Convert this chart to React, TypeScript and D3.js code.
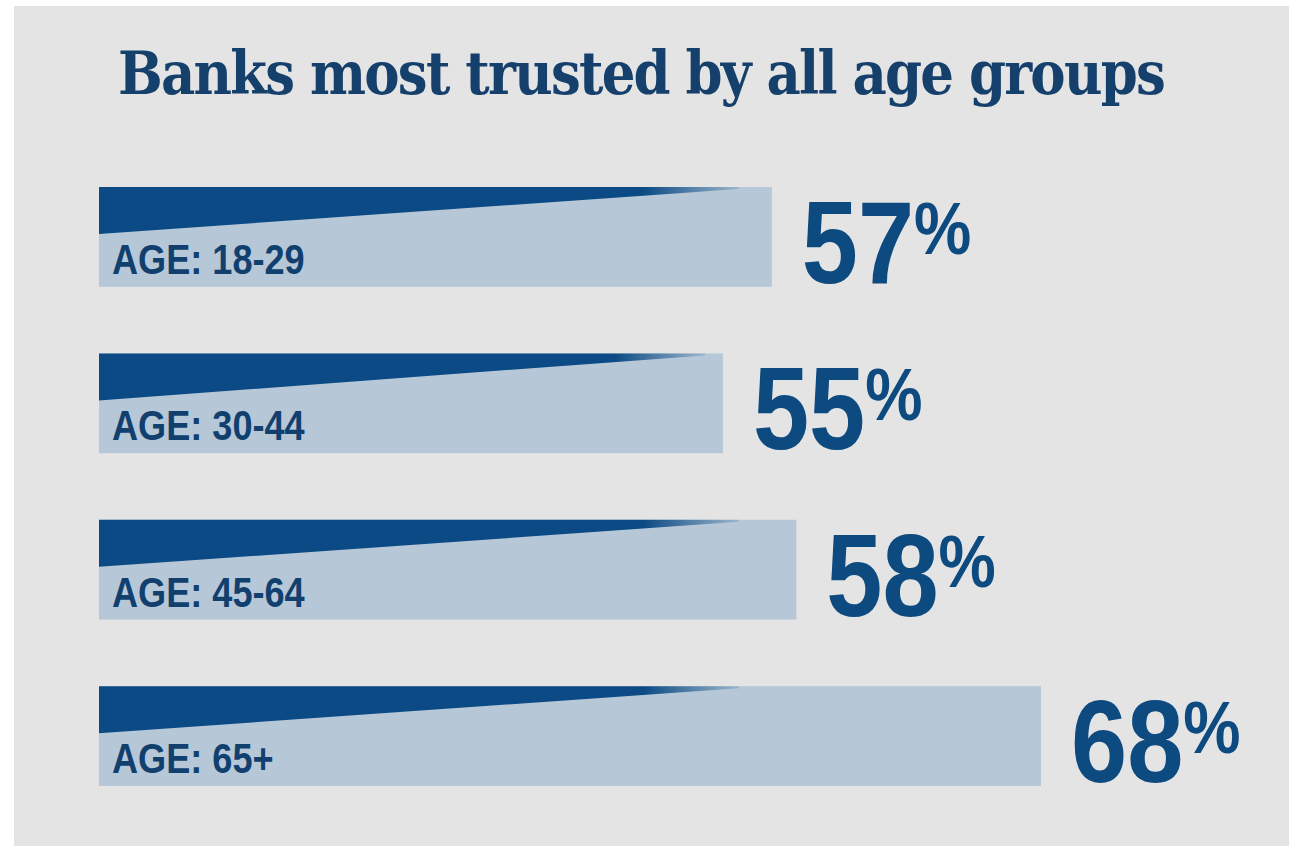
import React from "react";
import * as d3 from "d3";

const title = "Banks most trusted by all age groups";
const categories = ["AGE: 18-29", "AGE: 30-44", "AGE: 45-64", "AGE: 65+"];
const values = [57, 55, 58, 68];

const W = 1289;
const H = 846;

export default function App() {
  const x = d3.scaleLinear().domain([29.5, 68]).range([99, 1041]);
  const y = d3
    .scaleBand<string>()
    .domain(categories)
    .range([187, 786])
    .paddingInner(0.4)
    .paddingOuter(0);
  const bw = y.bandwidth();
  const x0 = x.range()[0];

  return (
    <svg
      width={W}
      height={H}
      viewBox={`0 0 ${W} ${H}`}
      style={{ position: "fixed", left: 0, top: 0, display: "block" }}
    >
      <defs>
        <linearGradient id="wedgeFade" x1="0" x2="1" y1="0" y2="0">
          <stop offset="0" stopColor="#0b4a84" stopOpacity={1} />
          <stop offset="0.85" stopColor="#0b4a84" stopOpacity={1} />
          <stop offset="1" stopColor="#0b4a84" stopOpacity={0.15} />
        </linearGradient>
      </defs>
      <rect x={0} y={0} width={W} height={H} fill="#ffffff" />
      <rect x={14} y={6} width={W - 14} height={H - 6} fill="#e4e4e4" />

      <text
        x={118}
        y={94}
        fontFamily="'DejaVu Serif', serif"
        fontWeight="bold"
        fontSize={60}
        letterSpacing={-2}
        fill="#16406c"
        textLength={1046}
        lengthAdjust="spacingAndGlyphs"
      >
        {title}
      </text>

      {categories.map((c, i) => {
        const top = y(c) as number;
        const xe = x(values[i]);
        const tip = Math.min(xe - 18, x0 + 640);
        return (
          <g key={c}>
            <rect x={x0} y={top} width={xe - x0} height={bw} fill="#b6c8d7" />
            <path
              d={`M${x0},${top}L${tip},${top}L${tip},${top + 2}L${x0},${top + 47}Z`}
              fill="url(#wedgeFade)"
            />
            <g transform={`translate(${x0 + 13},${top + bw - 13}) scale(0.86,1)`}>
              <text
                x={0}
                y={0}
                fontFamily="'Liberation Sans', Arial, sans-serif"
                fontWeight="bold"
                fontSize={42}
                fill="#11406f"
              >
                {c}
              </text>
            </g>
            <g transform={`translate(${xe + 30},${top + bw - 4}) scale(0.87,1)`}>
              <text
                x={0}
                y={0}
                fontFamily="'Liberation Sans', Arial, sans-serif"
                fontWeight="bold"
                fill="#0c4a80"
              >
                <tspan fontSize={116}>{values[i]}</tspan>
                <tspan fontSize={74} dy={-29}>%</tspan>
              </text>
            </g>
          </g>
        );
      })}
    </svg>
  );
}
